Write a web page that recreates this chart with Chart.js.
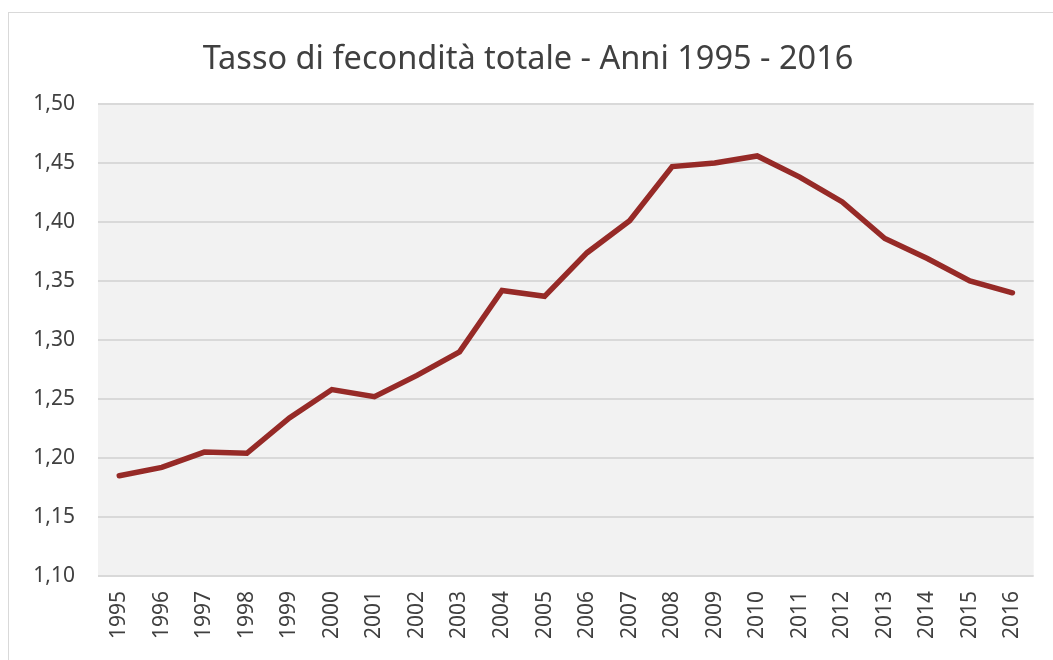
<!DOCTYPE html>
<html>
<head>
<meta charset="utf-8">
<script src="https://cdn.jsdelivr.net/npm/chart.js@4/dist/chart.umd.min.js"></script>
<style>
  html, body { margin: 0; padding: 0; background: #ffffff; overflow: hidden; }
  #frame { position: absolute; left: 8px; top: 12px; width: 1060px; height: 670px; border: 1px solid #d9d9d9; box-sizing: border-box; }
  #c { position: absolute; left: 0; top: 0; }
</style>
</head>
<body>
<div id="frame"></div>
<canvas id="c" width="1053" height="660"></canvas>
<script>
const years = ["1995","1996","1997","1998","1999","2000","2001","2002","2003","2004","2005","2006","2007","2008","2009","2010","2011","2012","2013","2014","2015","2016"];
const fertility = [1.185,1.192,1.205,1.204,1.234,1.258,1.252,1.270,1.290,1.342,1.337,1.374,1.401,1.447,1.450,1.456,1.438,1.417,1.386,1.369,1.350,1.340];
const titleText = "Tasso di fecondità totale - Anni 1995 - 2016";

const plotBg = {
  id: 'plotBg',
  beforeDraw(chart) {
    const {ctx, chartArea: a} = chart;
    ctx.save();
    ctx.fillStyle = '#f2f2f2';
    ctx.fillRect(a.left, a.top, a.right - a.left, a.bottom - a.top);
    ctx.restore();
  }
};

new Chart(document.getElementById('c'), {
  type: 'line',
  data: {
    labels: years,
    datasets: [{
      data: fertility,
      borderColor: '#962a27',
      borderWidth: 5.5,
      pointRadius: 0,
      tension: 0,
      fill: false,
      borderCapStyle: 'round',
      borderJoinStyle: 'miter'
    }]
  },
  options: {
    responsive: false,
    animation: false,
    devicePixelRatio: 1,
    layout: { padding: { left: 20, right: 17, top: 0, bottom: 0 } },
    plugins: {
      legend: { display: false },
      tooltip: { enabled: false },
      title: {
        display: true,
        text: titleText,
        color: '#404040',
        font: { family: 'Noto Sans', size: 32.5, weight: 'normal', lineHeight: 1.2 },
        padding: { top: 40, bottom: 25 }
      }
    },
    scales: {
      x: {
        offset: true,
        grid: { display: false, drawTicks: false },
        border: { display: false },
        ticks: {
          color: '#404040',
          font: { family: 'Noto Sans', size: 21 },
          minRotation: 90, maxRotation: 90,
          padding: 15,
          autoSkip: false
        },
        afterFit(s) { s.height = 84; }
      },
      y: {
        min: 1.10, max: 1.50,
        grid: { color: '#d9d9d9', lineWidth: 2, drawTicks: false },
        border: { display: false },
        ticks: {
          stepSize: 0.05,
          color: '#404040',
          font: { family: 'Noto Sans', size: 21 },
          padding: 23,
          callback: v => v.toFixed(2).replace('.', ',')
        },
        afterFit(s) { s.width = 78; }
      }
    }
  },
  plugins: [plotBg]
});
</script>
</body>
</html>
